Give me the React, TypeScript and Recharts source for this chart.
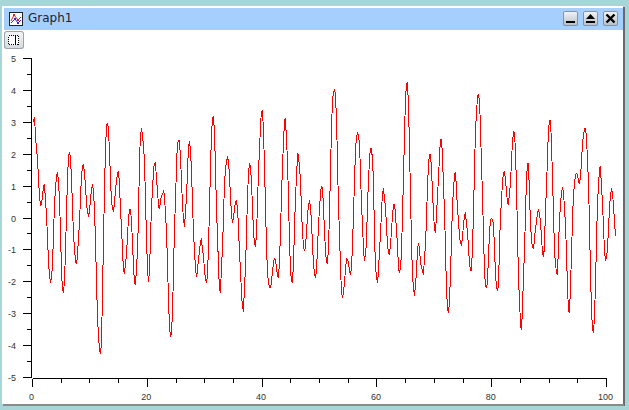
import { Line, LineChart, XAxis, YAxis } from "recharts";

// values, about one sample per screen pixel
const signalPart1 = [
  3.02, 3.15, 2.6, 2.13, 1.87, 1.24, 0.67, 0.41, 0.44, 0.69, 1.01, 1.04, 0.51, 0.15, -0.64, -1.35, -1.82, -1.99, -1.9,
  -1.42, -0.53, 0.46, 0.9, 1.33, 1.4, 1.19, 0.51, -0.38, -1.72, -2.21, -2.36, -1.95, -1.06, 0.17, 1.24, 1.92, 2.06, 1.87,
  1.24, 0.36, -0.56, -0.95, -1.37, -1.42, -1.21, -0.59, -0.17, 0.67, 1.3, 1.63, 1.66, 1.42, 0.98, 0.46, 0.15, 0.08, 0.2, 0.59,
  0.93, 1.01, 0.85, 0.25, -0.74, -1.95, -3.15, -3.67, -4.16, -4.25, -3.93, -2.31, -0.69, 0.9, 2.19, 2.87, 2.99, 2.76, 2.05, 1.21,
  0.51, 0.3, 0.2, 0.46, 0.93, 1.14, 1.4, 1.45, 1.09, 0.2, -0.23, -1.06, -1.63, -1.74, -1.42, -1.16, -0.53, -0.01, 0.28, 0.28,
  -0.12, -0.77, -1.51, -2.03, -2.11, -1.53, -1.06, 0.09, 1.84, 2.6, 2.81, 2.6, 2.24, 1.77, 0.56, -0.64, -1.6, -2.01, -1.63, -0.64,
  0.38, 0.85, 1.53, 1.72, 1.74, 1.19, 0.88, 0.36, 0.27, 0.56, 0.67, 0.75, 0.83, 0.72, 0.09, -0.38, -1.47, -2.57, -3.43, -3.72, -3.62,
  -2.94, -1.72, -0.22, 0.48, 1.72, 2.34, 2.43, 2.43, 1.87,
];
const signalPart2 = [
  1.19, 0.36, -0.01, -0.27, 0.2, 0.67, 1.45, 2.29, 2.37, 2.15, 1.45, 0.51, -0.51, -0.97, -1.61, -1.84, -1.65, -1.27, -1.06, -0.72,
  -0.67, -1.0, -1.21, -1.63, -1.91, -2.03, -1.79, -0.9, 0.3, 1.59, 2.64, 3.13, 3.2, 2.66, 1.59, 0.2, -0.48, -1.59, -2.21, -2.34,
  -1.47, -0.98, 0.09, 1.09, 1.51, 1.82, 1.9, 1.77, 1.3, 0.67, 0.09, -0.17, 0.02, 0.3, 0.53, 0.54, 0.3, -0.29, -1.13, -1.61,
  -2.42, -2.78, -2.94, -2.1, -1.6, -0.46, 0.65, 1.43, 1.72, 1.61, 1.09, 0.36, -0.46, -0.79, -0.9, -0.48, 0.41, 1.53, 2.08, 2.95,
  3.34, 3.36, 2.71, 1.61, 0.36, -0.87, -1.74, -2.0, -2.19, -2.19, -2.0, -1.68, -1.37, -1.28, -1.3, -1.55, -1.82, -1.89, -1.32, -0.43,
  0.75, 1.61, 2.4, 3.05, 3.13, 2.4, 1.84, 0.56, -0.72, -1.65, -1.95, -2.03, -1.37, -0.36, 0.72, 1.24, 2.01, 1.98, 1.56, 1.22,
  0.2, -0.43, -0.9, -1.03, -0.9, -0.43, 0.06, 0.43, 0.51, 0.36, -0.15, -0.83, -1.47, -1.72, -1.89, -1.63, -0.98, -0.17, 0.25,
];
const signalPart3 = [
  0.81, 0.98, 0.96, 0.3, -0.4, -1.06, -1.37, -1.42, -0.9, 0.15, 1.51, 2.81, 3.72, 3.93, 4.04, 3.86, 3.08, 1.79, 0.3, -0.43,
  -1.6, -2.31, -2.49, -2.36, -2.0, -1.61, -1.27, -1.32, -1.37, -1.68, -1.79, -1.53, -0.85, 0.13, 1.19, 2.13, 2.55, 2.66, 2.6, 2.29,
  1.45, 0.38, -0.17, -1.03, -1.35, -1.11, -0.77, 0.48, 1.14, 1.87, 2.19, 2.17, 1.82, 1.14, -0.59, -1.53, -1.84, -2.05, -1.68, -0.98,
  -0.56, 0.25, 0.77, 0.93, 0.6, 0.33, -0.27, -0.85, -1.11, -1.13, -0.85, -0.38, 0.09, 0.41, 0.43, 0.15, -0.43, -0.79, -1.61, -1.72,
  -1.53, -1.11, 0.15, 1.24, 2.66, 3.72, 4.21, 4.23, 3.49, 2.24, 0.67, -0.74, -1.84, -2.18, -2.44, -2.1, -1.68, -0.95, -0.79, -0.95,
  -1.42, -1.51, -1.68, -1.79, -1.21, -0.88, 0.04, 0.98, 1.69, 1.98, 1.98, 1.54, 0.81, 0.15, -0.36, -0.46, 0.09, 0.72, 1.24, 1.98,
  2.45, 2.45, 1.98, 0.93, 0.3, -1.06, -2.19, -2.87, -2.94, -2.63, -1.74, -0.64, 0.41, 0.88, 1.37, 1.42, 0.91, 0.25, -0.06, -0.61,
];
const signalPart4 = [
  -0.79, -0.85, -0.59, -0.2, 0.09, 0.15, -0.2, -0.43, -0.95, -1.44, -1.65, -1.63, -0.9, 0.18, 1.53, 2.78, 3.28, 3.81, 3.89, 3.65,
  2.87, 1.56, 0.81, -0.59, -1.63, -2.15, -2.18, -2.0, -1.16, -0.48, -0.06, -0.01, -0.04, -0.22, -0.95, -1.79, -2.15, -2.28, -2.13, -0.85,
  0.09, 0.51, 1.19, 1.4, 1.45, 1.19, 0.83, 0.46, 0.43, 0.79, 1.09, 1.8, 2.4, 2.69, 2.66, 2.08, 0.98, -0.48, -1.95, -2.55,
  -3.36, -3.51, -2.87, -1.74, -1.09, 0.2, 1.21, 1.72, 1.72, 0.67, -0.15, -0.71, -0.9, -0.98, -0.67, -0.27, -0.17, 0.2, 0.25, 0.15,
  -0.14, -0.59, -1.11, -1.21, -0.9, 0.36, 0.88, 1.98, 2.76, 3.05, 3.05, 2.34, 1.24, 0.15, -1.06, -1.42, -1.74, -1.77, -0.85, -0.04,
  0.38, 0.83, 0.93, 0.85, 0.27, -0.17, -1.16, -2.15, -2.94, -2.97, -2.13, -1.13, -0.06, 0.77, 1.07, 1.35, 1.39, 1.35, 1.14, 1.09,
  1.3, 1.77, 2.34, 2.6, 2.81, 2.81, 2.55, 1.77, 1.14, -0.27, -1.72, -2.89, -3.51, -3.59, -3.1, -2.05, -0.74, 0.51, 0.98, 1.56,
  1.61, 0.93, 0.51, -0.32, -1.0, -1.35, -1.21, -0.97, -0.32, 0.3, 0.75, 0.88, 0.79, 0.38, -0.12, -0.55,
];
const xTicks = [0, 5, 10, 15, 20, 25, 30, 35, 40, 45, 50, 55, 60, 65, 70, 75, 80, 85, 90, 95, 100];
const yTicks = [-5, -4.5, -4, -3.5, -3, -2.5, -2, -1.5, -1, -0.5, 0, 0.5, 1, 1.5, 2, 2.5, 3, 3.5, 4, 4.5, 5];

const signal = [...signalPart1, ...signalPart2, ...signalPart3, ...signalPart4];
const pxPerUnit = 5.74;
const sampleStep = 1 / pxPerUnit;
const data = signal.map((value, i) => ({ t: (i + 1) * sampleStep, value }));
const lastT = data[data.length - 1].t;

const plotLeft = 32.5;
const plotTop = 58.5;
const plotHeight = 319;
const plotWidth = lastT * pxPerUnit;

const tickFont = { fontFamily: "'Liberation Sans', sans-serif", fontSize: 9, fill: "#333" };

function XTick({ x, y, payload }: any) {
  const major = payload.value % 20 === 0;
  const ay = y + 1;
  return (
    <g shapeRendering="crispEdges">
      {payload.value < 100 && <line x1={x} x2={x + 5 * pxPerUnit} y1={ay} y2={ay} stroke="#000" />}
      <line x1={x} x2={x} y1={ay} y2={ay + (major ? 8 : 4)} stroke="#000" />
      {major && (
        <text x={x - 1} y={400} textAnchor="middle" {...tickFont}>
          {payload.value}
        </text>
      )}
    </g>
  );
}

function YTick({ x, y, payload }: any) {
  const major = Number.isInteger(payload.value);
  const ax = x - 1;
  return (
    <g>
      <line x1={ax - (major ? 9 : 5)} x2={ax} y1={y} y2={y} stroke="#000" shapeRendering="crispEdges" />
      {major && (
        <text x={16} y={y + 3.5} textAnchor="end" {...tickFont}>
          {payload.value}
        </text>
      )}
    </g>
  );
}

function WinButton({ left, children }: { left: number; children: any }) {
  return (
    <div
      style={{
        position: "absolute",
        left,
        top: 11,
        width: 15,
        height: 15,
        borderRadius: 2,
        background: "linear-gradient(#f4f6f8, #b4bcc6)",
        boxShadow: "inset 0 0 0 1px #8a929c",
      }}
    >
      <svg width={15} height={15} style={{ display: "block" }}>
        {children}
      </svg>
    </div>
  );
}

export default function App() {
  return (
    <div style={{ position: "fixed", left: 0, top: 0, width: 629, height: 410, overflow: "hidden", background: "#a8d5d8" }}>
      {/* window frame */}
      <div style={{ position: "absolute", left: 2, top: 6, width: 621, height: 398, background: "#fff" }} />
      <div style={{ position: "absolute", left: 623, top: 7, width: 1.5, height: 399, background: "#6a6a6a" }} />
      <div style={{ position: "absolute", left: 3, top: 404, width: 621, height: 2, background: "#8a8a8a" }} />
      <div style={{ position: "absolute", left: 4, top: 8, width: 619, height: 22, background: "#a6cffd" }} />
      <svg width={14} height={14} style={{ position: "absolute", left: 9, top: 12 }}>
        <rect x={0.5} y={0.5} width={13} height={13} fill="#fff" stroke="#222" />
        <polyline points="2,9 5,3 9,8 12,5" fill="none" stroke="#e02020" />
        <polyline points="2,11 6,7 9,11 12,8" fill="none" stroke="#2030d0" />
        <rect x={4} y={2} width={2} height={2} fill="#e02020" />
        <rect x={8} y={7} width={2} height={2} fill="#e02020" />
        <rect x={5} y={6} width={2} height={2} fill="#2030d0" />
        <rect x={8} y={10} width={2} height={2} fill="#2030d0" />
      </svg>
      <div
        style={{
          position: "absolute",
          left: 28,
          top: 11,
          fontFamily: "'DejaVu Sans', sans-serif",
          fontSize: 12,
          lineHeight: "15px",
          color: "#1c2430",
        }}
      >
        Graph1
      </div>
      <WinButton left={563}>
        <rect x={3} y={10} width={9} height={2} fill="#000" />
      </WinButton>
      <WinButton left={583}>
        <path d="M7.5 3 L12 8 L3 8 Z" fill="#000" />
        <rect x={3} y={10} width={9} height={2} fill="#000" />
      </WinButton>
      <WinButton left={603}>
        <path d="M3.5 3.5 L11.5 11.5 M11.5 3.5 L3.5 11.5" stroke="#000" strokeWidth={2.4} />
      </WinButton>
      {/* toolbar button */}
      <div
        style={{
          position: "absolute",
          left: 4,
          top: 31,
          width: 20,
          height: 18,
          borderRadius: 3,
          background: "linear-gradient(#f5f6f8, #d4d8dd)",
          boxShadow: "inset 0 0 0 1px #9ba3ad",
        }}
      >
        <svg width={20} height={18} style={{ display: "block" }} shapeRendering="crispEdges">
          <rect x={4.5} y={4.5} width={10} height={9} fill="#fff" stroke="#000" strokeDasharray="1 1" />
          <line x1={11.5} x2={11.5} y1={4} y2={14} stroke="#000" />
        </svg>
      </div>

      <div style={{ position: "absolute", left: 0, top: 0 }}>
        <LineChart
          width={629}
          height={410}
          data={data}
          margin={{ left: 0, top: plotTop, right: 629 - plotLeft - plotWidth, bottom: 0 }}
        >
          <XAxis
            type="number"
            dataKey="t"
            domain={[0, lastT]}
            ticks={xTicks}
            interval={0}
            height={410 - plotTop - plotHeight}
            axisLine={false}
            tickLine={false}
            tickSize={0}
            tickMargin={0}
            tick={<XTick />}
          />
          <YAxis
            type="number"
            domain={[-5, 5]}
            ticks={yTicks}
            interval={0}
            width={plotLeft}
            axisLine={{ stroke: "#000", transform: "translate(-1,0)", shapeRendering: "crispEdges" }}
            tickLine={false}
            tickSize={0}
            tickMargin={0}
            tick={<YTick />}
          />
          <Line
            type="linear"
            dataKey="value"
            stroke="#ff0000"
            strokeWidth={1}
            dot={false}
            shapeRendering="crispEdges"
            isAnimationActive={false}
          />
        </LineChart>
      </div>
    </div>
  );
}
